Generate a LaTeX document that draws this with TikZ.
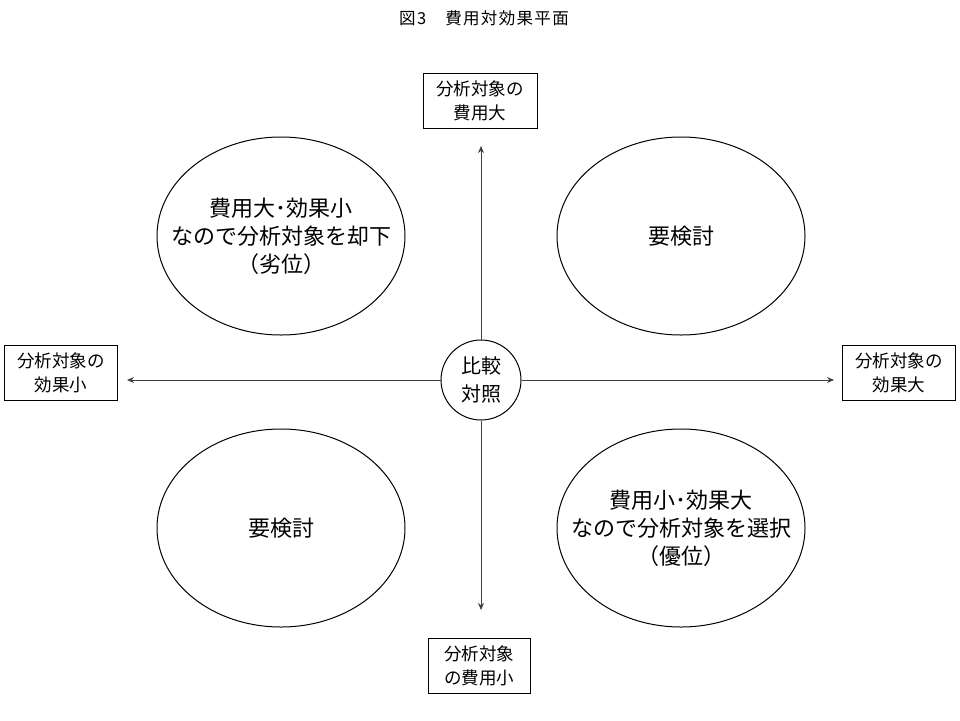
\documentclass[tikz,border=0pt]{standalone}
\usepackage{fontspec}
\setmainfont{Noto Sans CJK JP}
\newfontfamily\titlefont[LetterSpace=8]{Noto Sans CJK JP}
\usetikzlibrary{shapes.geometric,arrows.meta}
\begin{document}
\begin{tikzpicture}[x=1pt,y=-1pt,
  oval/.style={draw, ellipse, minimum width=248pt, minimum height=198pt, inner sep=0pt, line width=1pt},
  ovaltext/.style={inner sep=0pt, align=center, font=\fontsize{22}{28}\selectfont},
  lbox/.style={draw, rectangle, inner sep=0pt, minimum height=55pt, align=center, font=\fontsize{17.5}{24}\selectfont, line width=1pt},
  hub/.style={draw, circle, minimum size=80pt, inner sep=0pt, align=center, font=\fontsize{20}{28}\selectfont, line width=1pt, fill=white},
  axisline/.style={line width=1pt, draw=black!75, -{Stealth[length=7pt,width=6pt]}}]
\useasboundingbox[fill=white] (0,0) rectangle (960,720);
\node[font=\titlefont\fontsize{16.5}{18}\selectfont] (title) at (484,18) {図3　費用対効果平面};
\node[hub] (c) at (481,380) {比較\\対照};
\node[lbox, minimum width=114pt] (top) at (480,100.5) {分析対象の\\費用大};
\node[lbox, minimum width=113pt] (left) at (61,372.5) {分析対象の\\効果小};
\node[lbox, minimum width=113pt] (right) at (899,372.5) {分析対象の\\効果大};
\node[lbox, minimum width=102pt] (bottom) at (479,665.5) {分析対象\\の費用小};
\coordinate (tu) at (481,146);
\coordinate (td) at (481,610);
\coordinate (tl) at (127,380);
\coordinate (tr) at (834,380);
\draw[axisline] (c.north) -- (tu);
\draw[axisline] (c.south) -- (td);
\draw[axisline] (c.west) -- (tl);
\draw[axisline] (c.east) -- (tr);
\node[oval] (q2) at (281,236) {};
\node[ovaltext] (q2t) at (q2) {費用大･効果小\\なので分析対象を却下\\（劣位）};
\node[oval] (q1) at (681,236) {};
\node[ovaltext] (q1t) at (q1) {要検討};
\node[oval] (q3) at (281,528) {};
\node[ovaltext] (q3t) at (q3) {要検討};
\node[oval] (q4) at (681,528) {};
\node[ovaltext] (q4t) at (q4) {費用小･効果大\\なので分析対象を選択\\（優位）};
\end{tikzpicture}
\end{document}
